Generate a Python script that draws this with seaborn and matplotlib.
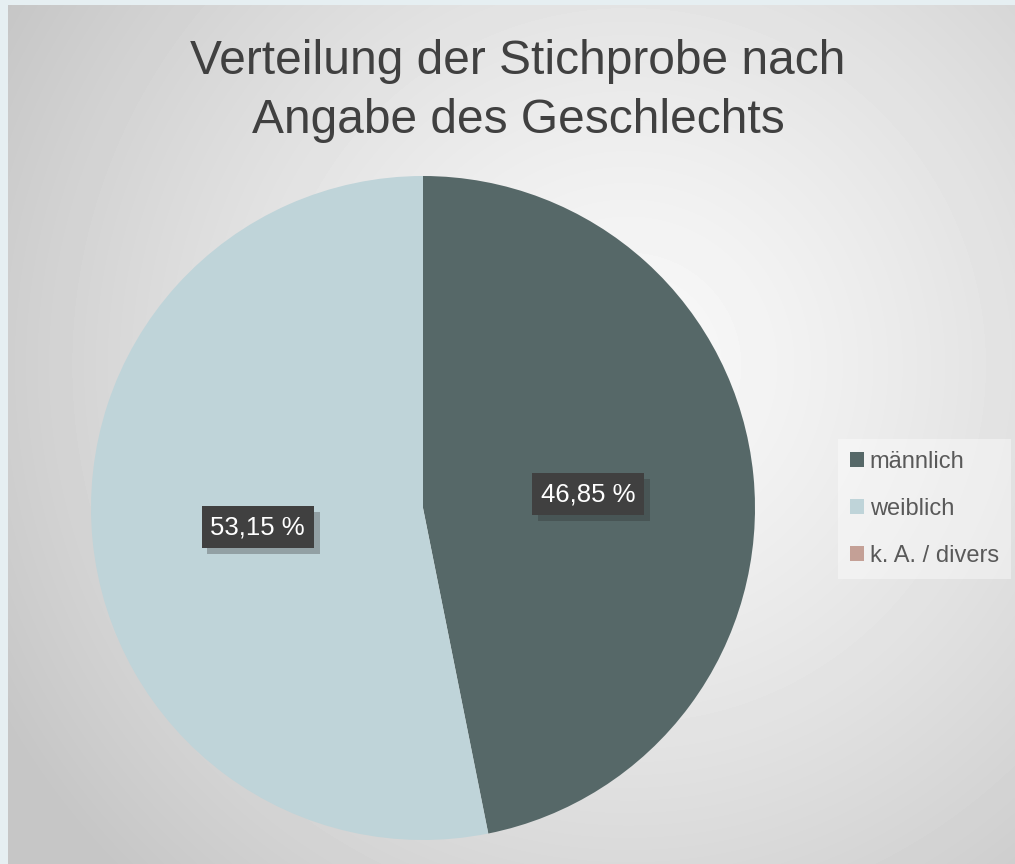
import numpy as np
import matplotlib
matplotlib.use("Agg")
import matplotlib.pyplot as plt
import matplotlib.patheffects as pe
import seaborn as sns

# data
categories = ["männlich", "weiblich", "k. A. / divers"]
shares = [46.85, 53.15, 0.0]
colors = ["#566868", "#bfd4d9", "#c4a096"]
title = "Verteilung der Stichprobe nach\nAngabe des Geschlechts"

sns.set_theme(style="white")
plt.rcParams["font.family"] = ["Liberation Sans", "DejaVu Sans"]

W, H = 1015, 864
fig = plt.figure(figsize=(W / 100, H / 100), dpi=100)
fig.patch.set_facecolor("#e6eff2")

# background with radial gradient
bg = fig.add_axes([8 / W, 0, 1 - 8 / W, (H - 5) / H])
bg.set_axis_off()
yy, xx = np.mgrid[0:H - 5, 0:W - 8]
cx, cy = 620, 360
d = np.sqrt((xx - cx) ** 2 + (yy - cy) ** 2) / 720
d = np.clip(d, 0, 1)
light, dark = 0.975, 0.775
grad = light - (light - dark) * d ** 1.3
bg.imshow(grad, cmap="gray", vmin=0, vmax=1, aspect="auto",
          extent=[0, 1, 0, 1], origin="upper")
bg.set_xlim(0, 1)
bg.set_ylim(0, 1)

# pie
cx_px, cy_px, r_px = 423, 508, 332
ax = fig.add_axes([(cx_px - r_px) / W, (H - cy_px - r_px) / H,
                   2 * r_px / W, 2 * r_px / H])


def pct_label(p):
    if p < 0.5:
        return ""
    return f"{p:.2f} %".replace(".", ",")


wedges, texts, autotexts = ax.pie(
    shares, colors=colors, startangle=90, counterclock=False,
    autopct=pct_label, pctdistance=0.5, radius=1, frame=False,
    wedgeprops=dict(linewidth=0),
    textprops=dict(color="white", fontsize=18.5))
ax.set_xlim(-1, 1)
ax.set_ylim(-1, 1)
ax.set_aspect("auto")
ax.set_axis_off()

for t in autotexts:
    x, y = t.get_position()
    t.set_position((x, y - 0.008))
    t.set_bbox(dict(boxstyle="square,pad=0.35", facecolor="#404040",
                    edgecolor="none"))
    t.get_bbox_patch().set_path_effects(
        [pe.SimplePatchShadow(offset=(4, -4), shadow_rgbFace="#2a2a2a", alpha=0.3),
         pe.Normal()])

fig.text(518 / W, 1 - 91 / H, title, ha="center", va="center",
         fontsize=34.5, color="#404040", linespacing=1.38)

leg = fig.legend(wedges, categories, loc="center left",
                 bbox_to_anchor=(838 / W, 1 - 509 / H),
                 frameon=True, fontsize=17, handlelength=0.6,
                 handleheight=0.6, handletextpad=0.25, labelspacing=1.05,
                 borderpad=0.5, borderaxespad=0, labelcolor="#595959")
leg.get_frame().set_facecolor("white")
leg.get_frame().set_alpha(0.4)
leg.get_frame().set_edgecolor("none")
leg.get_frame().set_boxstyle("square,pad=0")

fig.savefig("out.png", dpi=100)
